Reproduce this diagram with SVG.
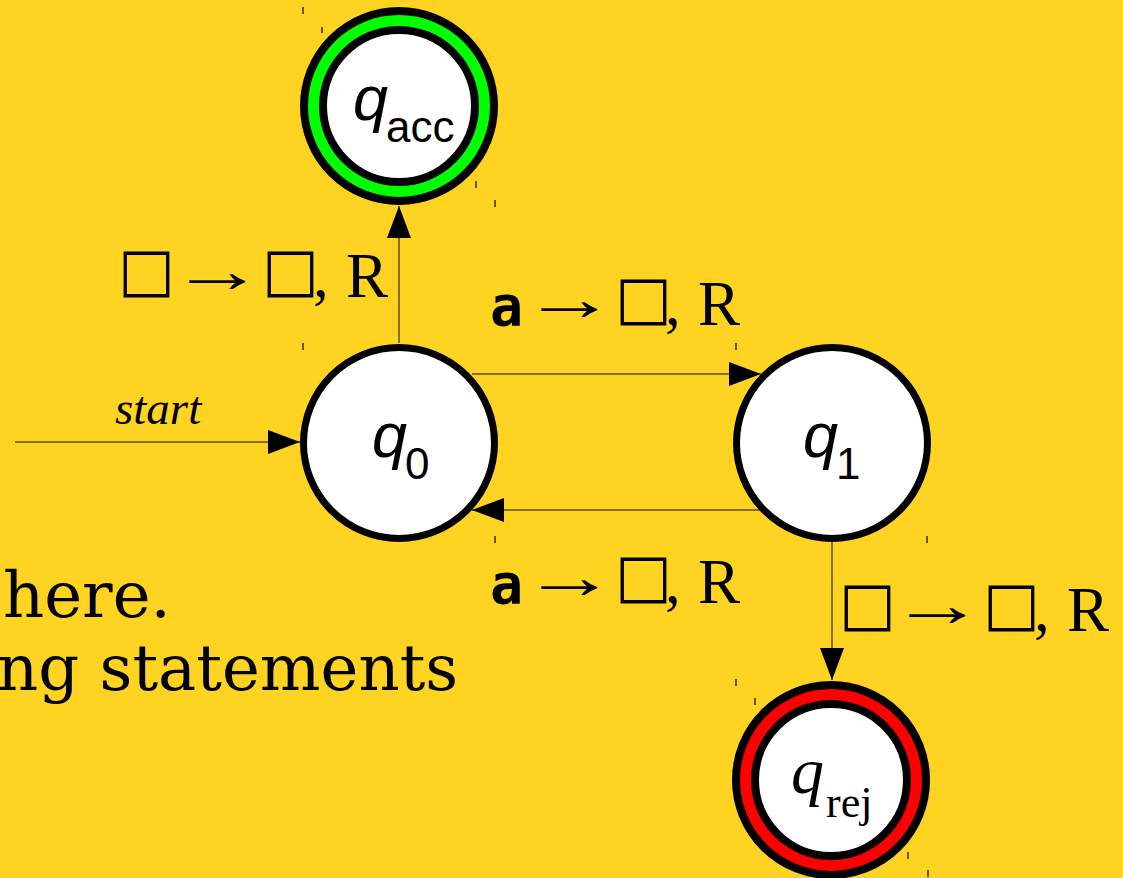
<svg xmlns="http://www.w3.org/2000/svg" width="1123" height="878" viewBox="0 0 1123 878">
<style>
.lbl{font-family:"Liberation Serif",serif;font-size:63px;fill:#000}
.box{font-family:"DejaVu Sans",sans-serif;font-size:60px}
.mono{font-family:"DejaVu Sans Mono",monospace;font-weight:bold;font-size:55px}
.st{fill:#fff;stroke:#000;stroke-width:7}
.edge{stroke:#5e4d00;stroke-width:1.5;fill:none}
.tick{stroke:#000;stroke-width:1.2}
.q{font-family:"Liberation Sans",sans-serif;font-style:italic;font-size:63px;fill:#000}
.sub{font-family:"Liberation Sans",sans-serif;font-size:44px;fill:#000}
.qs{font-family:"Liberation Serif",serif;font-style:italic;font-size:66px;fill:#000}
.subs{font-family:"Liberation Serif",serif;font-size:44px;fill:#000}
.body{font-family:"DejaVu Serif",serif;font-size:64px;fill:#000}
.start{font-family:"Liberation Serif",serif;font-style:italic;font-size:47px;fill:#000}
</style>
<defs>
<marker id="ah" markerWidth="32" markerHeight="24" refX="32" refY="12" orient="auto" markerUnits="userSpaceOnUse"><path d="M0,0 L32,12 L0,24 z" fill="#000"/></marker>
</defs>
<rect width="1123" height="878" fill="#fed321"/>
<g id="background-text">
<text class="body" x="3" y="617">here.</text>
<text class="body" x="-3" y="690">ng statements</text>
</g>
<g id="connectors">
<path class="edge" d="M15,442 H300" marker-end="url(#ah)"/>
<path class="edge" d="M399,343 V206" marker-end="url(#ah)"/>
<path class="edge" d="M472,374 H761" marker-end="url(#ah)"/>
<path class="edge" d="M760,510 H472" marker-end="url(#ah)"/>
<path class="edge" d="M832,542 V680" marker-end="url(#ah)"/>
<text class="start" x="115" y="424">start</text>
<text class="lbl"><tspan class="box" x="118" y="290">□</tspan><tspan x="262" y="290" class="box">□</tspan><tspan x="313" y="297">,</tspan><tspan x="346" y="297">R</tspan></text>
<text class="lbl" transform="translate(170,292) scale(1.5,1)">→</text>
<text class="lbl"><tspan class="mono" x="490" y="325">a</tspan><tspan class="box" x="615" y="318">□</tspan><tspan x="665" y="325">,</tspan><tspan x="698" y="325">R</tspan></text>
<text class="lbl" transform="translate(522,320) scale(1.5,1)">→</text>
<text class="lbl"><tspan class="mono" x="490" y="603">a</tspan><tspan class="box" x="615" y="596">□</tspan><tspan x="665" y="603">,</tspan><tspan x="698" y="603">R</tspan></text>
<text class="lbl" transform="translate(522,598) scale(1.5,1)">→</text>
<text class="lbl"><tspan class="box" x="839" y="624">□</tspan><tspan class="box" x="983" y="624">□</tspan><tspan x="1034" y="631">,</tspan><tspan x="1067" y="631">R</tspan></text>
<text class="lbl" transform="translate(890,626) scale(1.5,1)">→</text>
</g>
<g id="q0">
<circle class="st" cx="399" cy="443" r="95.5"/>
<text class="q" x="372" y="457">q</text><text class="sub" x="405" y="479">0</text>
<path class="tick" d="M303,343 v7 M495,536 v7"/>
</g>
<g id="q1">
<circle class="st" cx="832" cy="443" r="95.5"/>
<text class="q" x="803" y="457">q</text><text class="sub" x="836" y="479">1</text>
<path class="tick" d="M736,343 v7 M927,536 v7"/>
</g>
<g id="qacc">
<circle cx="399" cy="106" r="95" fill="#00ff00" stroke="#000" stroke-width="8"/>
<circle cx="399" cy="106" r="76" fill="#fff" stroke="#000" stroke-width="8"/>
<text class="q" x="353" y="120">q</text><text class="sub" x="386" y="142">acc</text>
<path class="tick" d="M303,7 v7 M322,27 v6 M476,181 v7 M495,200 v7"/>
</g>
<g id="qrej">
<circle cx="831" cy="780" r="95" fill="#ff0000" stroke="#000" stroke-width="8"/>
<circle cx="831" cy="780" r="76" fill="#fff" stroke="#000" stroke-width="8"/>
<text class="qs" x="791" y="793">q</text><text class="subs" x="826" y="817">rej</text>
<path class="tick" d="M736,679 v7 M755,698 v7 M908,852 v7 M928,870 v7"/>
</g>
</svg>
